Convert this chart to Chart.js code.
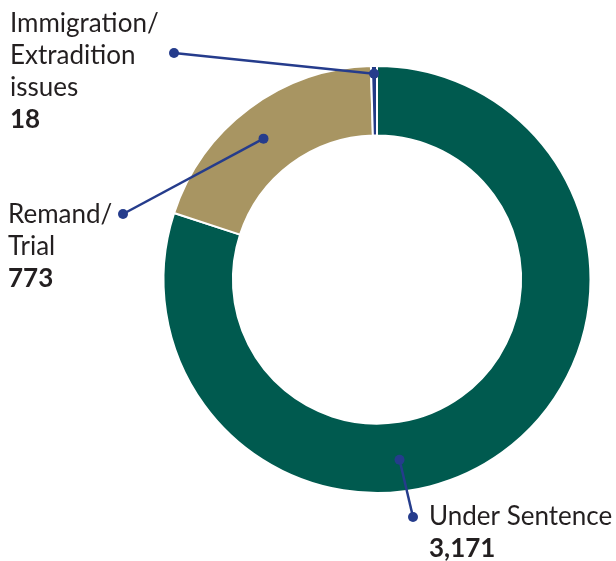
<!DOCTYPE html>
<html>
<head>
<meta charset="utf-8">
<title>Prison population by status</title>
<script src="https://cdn.jsdelivr.net/npm/chart.js@4.4.1/dist/chart.umd.min.js"></script>
<style>
html,body{margin:0;padding:0;background:#fff;}
canvas{display:block;}
</style>
</head>
<body>
<canvas id="statusChart" width="616" height="561"></canvas>
<script>
// categories and counts
const categories = ["Under Sentence", "Remand/Trial", "Immigration/Extradition issues"];
const counts = [3171, 773, 18];
const labelLines = [
  ["Under Sentence"],
  ["Remand/", "Trial"],
  ["Immigration/", "Extradition", "issues"]
];
const sliceColors = ["#005a4f", "#a89562", "#233a86"];

// where each callout sits: anchor inside the slice (fraction of angle / ring depth),
// end dot and text start
const callouts = [
  { angleFrac: 0.60, depthFrac: 0.54, dotX: 413, dotY: 517, textX: 429, textY: 525 },
  { angleFrac: 0.47, depthFrac: 0.53, dotX: 123, dotY: 214, textX: 8, textY: 223 },
  { angleFrac: 0.50, depthFrac: 0.89, dotX: 174, dotY: 53, textX: 10, textY: 32 }
];

const leaderColor = "#253c8c";
const textColor = "#231f20";
const fontSize = 26;
const lineGap = 32;

const calloutPlugin = {
  id: "callouts",
  afterDraw(chart){
    const c = chart.ctx;
    const arcs = chart.getDatasetMeta(0).data;
    arcs.forEach((arc, i) => {
      const p = arc.getProps(["x","y","startAngle","endAngle","innerRadius","outerRadius"], true);
      const co = callouts[i];
      const a = p.startAngle + co.angleFrac * (p.endAngle - p.startAngle);
      const r = p.innerRadius + co.depthFrac * (p.outerRadius - p.innerRadius);
      const ax = p.x + Math.cos(a) * r;
      const ay = p.y + Math.sin(a) * r;

      c.save();
      c.strokeStyle = leaderColor;
      c.fillStyle = leaderColor;
      c.lineWidth = 2.5;
      c.beginPath();
      c.moveTo(ax, ay);
      c.lineTo(co.dotX, co.dotY);
      c.stroke();
      [[ax, ay], [co.dotX, co.dotY]].forEach(([x, y]) => {
        c.beginPath();
        c.arc(x, y, 5, 0, Math.PI * 2);
        c.fill();
      });

      c.fillStyle = textColor;
      c.textBaseline = "alphabetic";
      c.textAlign = "left";
      c.font = fontSize + "px Lato, 'Noto Sans', sans-serif";
      const lines = labelLines[i];
      lines.forEach((t, k) => c.fillText(t, co.textX, co.textY + k * lineGap));
      c.font = "bold " + fontSize + "px Lato, 'Noto Sans', sans-serif";
      c.fillText(counts[i].toLocaleString("en-GB"), co.textX, co.textY + lines.length * lineGap);
      c.restore();
    });
  }
};

new Chart(document.getElementById("statusChart"), {
  type: "doughnut",
  data: {
    labels: categories,
    datasets: [{
      data: counts,
      backgroundColor: sliceColors,
      borderColor: "#ffffff",
      borderWidth: 2,
      hoverOffset: 0
    }]
  },
  options: {
    responsive: false,
    animation: false,
    cutout: "67.5%",
    layout: { padding: { top: 65, bottom: 67, left: 162, right: 24 } },
    plugins: {
      legend: { display: false },
      tooltip: { enabled: false }
    }
  },
  plugins: [calloutPlugin]
});
</script>
</body>
</html>
